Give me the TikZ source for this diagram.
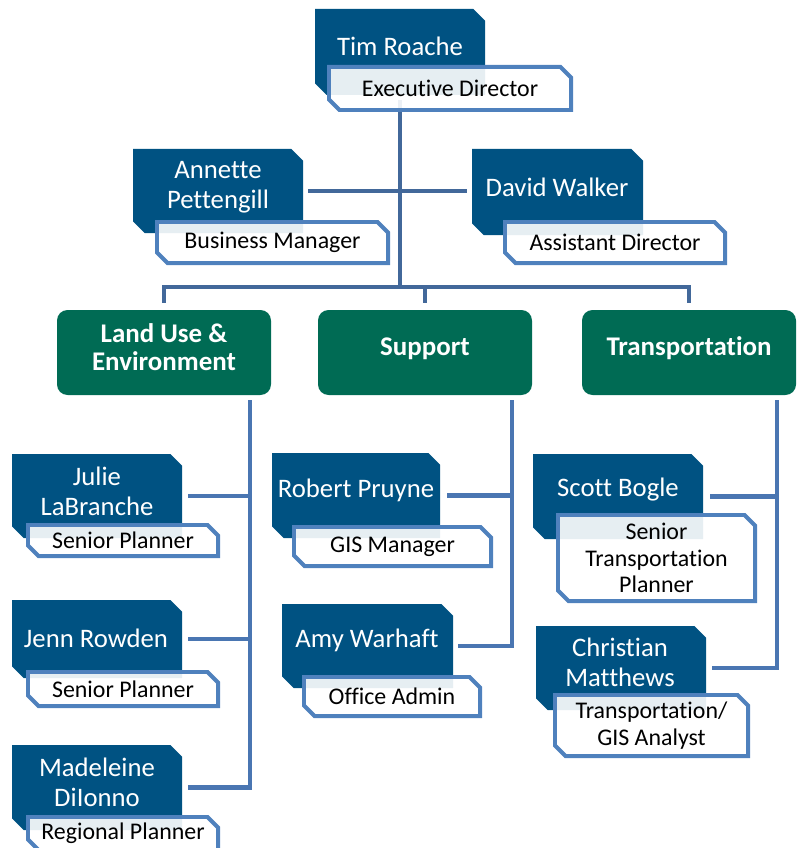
\documentclass[tikz,border=0pt]{standalone}
\usepackage{fontspec}
\setmainfont{Carlito}[Ligatures={NoCommon,NoContextual}]
\usetikzlibrary{backgrounds}
\newlength\px \setlength\px{0.03cm}
\definecolor{staffblue}{RGB}{0,82,130}
\definecolor{roleedge}{RGB}{79,129,189}
\definecolor{linktop}{RGB}{66,104,154}
\definecolor{linklow}{RGB}{74,118,178}
\definecolor{teamgreen}{RGB}{0,107,84}
% chamfered outline of the current node: #1 inset, #2 cut
\newcommand\cutbox[2]{([shift={(#1,-#1)}]path picture bounding box.north west)
  -- ([shift={(-#1-#2,-#1)}]path picture bounding box.north east)
  -- ([shift={(-#1,-#1-#2)}]path picture bounding box.north east)
  -- ([shift={(-#1,#1)}]path picture bounding box.south east)
  -- ([shift={(#1+#2,#1)}]path picture bounding box.south west)
  -- ([shift={(#1,#1+#2)}]path picture bounding box.south west) -- cycle}
\tikzset{
  boxw/.style={minimum width=#1*\px},
  boxh/.style={minimum height=#1*\px},
  person/.style={rectangle, inner sep=0pt,
    path picture={\fill[staffblue] \cutbox{0pt}{10pt};}},
  rolebox/.style={rectangle, inner sep=0pt, align=center,
    font=\fontsize{20.4}{22.6}\selectfont,
    path picture={\draw[roleedge, line width=3.4pt, fill=white, fill opacity=0.9] \cutbox{1.7pt}{9pt};}},
  nametext/.style={text=white, align=center, font=\fontsize{22.8}{25.5}\selectfont},
  team/.style={rectangle, rounded corners=9pt, fill=teamgreen, text=white, align=center,
    font=\bfseries\fontsize{23}{24}\selectfont, minimum width=214*\px, minimum height=85*\px},
  link/.style={draw=linklow, line width=3.6pt},
  linkup/.style={draw=linktop, line width=3.6pt}
}
\begin{document}
\begin{tikzpicture}[x=0.03cm,y=-0.03cm]
  \useasboundingbox (0,0) rectangle (801,848);

  % staff boxes
  \node[person, boxw=170, boxh=86] (tim) at (400,52) {};
  \node[person, boxw=170, boxh=84] (annette) at (218,191) {};
  \node[person, boxw=171, boxh=86] (david) at (557.5,192) {};
  \node[person, boxw=170, boxh=84] (julie) at (97,496) {};
  \node[person, boxw=170, boxh=78] (jenn) at (97,639) {};
  \node[person, boxw=170, boxh=85] (madeleine) at (97,787.5) {};
  \node[person, boxw=168, boxh=85] (robert) at (356,495.5) {};
  \node[person, boxw=171, boxh=84] (amy) at (367.5,646) {};
  \node[person, boxw=170, boxh=85] (scott) at (618,496.5) {};
  \node[person, boxw=170, boxh=84] (christian) at (621,668) {};

  % job titles
  \node[rolebox, boxw=246, boxh=47] (tim-r) at (450,88.5) {Executive Director};
  \node[rolebox, boxw=235, boxh=45] (annette-r) at (272.5,242.5) {Business Manager};
  \node[rolebox, boxw=224, boxh=45] (david-r) at (615,242.5) {Assistant Director};
  \node[rolebox, boxw=194, boxh=35] (julie-r) at (123,540.5) {Senior Planner};
  \node[rolebox, boxw=194, boxh=38] (jenn-r) at (123,689) {Senior Planner};
  \node[rolebox, boxw=194, boxh=37] (madeleine-r) at (123,833.5) {Regional Planner};
  \node[rolebox, boxw=201, boxh=43] (robert-r) at (392.5,546.5) {GIS Manager};
  \node[rolebox, boxw=180, boxh=43] (amy-r) at (392,696.5) {Office Admin};
  \node[rolebox, boxw=201, boxh=90] (scott-r) at (656.5,558) {Senior\\Transportation\\Planner};
  \node[rolebox, boxw=197, boxh=65] (christian-r) at (651.5,725.5) {Transportation/\\GIS Analyst};

  % names
  \node[nametext] (tim-n) at (400,46) {Tim Roache};
  \node[nametext] (annette-n) at (218,187) {Annette\\Pettengill};
  \node[nametext] (david-n) at (557,187) {David Walker};
  \node[nametext] (julie-n) at (97,491) {Julie\\LaBranche};
  \node[nametext] (jenn-n) at (96,638) {Jenn Rowden};
  \node[nametext] (madeleine-n) at (97,782) {Madeleine\\DiIonno};
  \node[nametext] (robert-n) at (356,490) {Robert Pruyne};
  \node[nametext] (amy-n) at (367,640) {Amy Warhaft};
  \node[nametext] (scott-n) at (618,490) {Scott Bogle};
  \node[nametext] (christian-n) at (620,662) {Christian\\Matthews};

  % teams
  \node[team] (land) at (164,352.5) {Land Use \&\\Environment\rule[-9pt]{0pt}{0pt}};
  \node[team] (support) at (425,352.5) {Support\rule[-10pt]{0pt}{0pt}};
  \node[team] (transp) at (689,352.5) {Transportation\rule[-11pt]{0pt}{0pt}};

  \coordinate (trunk) at (400,100);
  \coordinate (bus) at (400,287);
  \coordinate (lu-spine) at (250,400);
  \coordinate (su-spine) at (512,400);
  \coordinate (tr-spine) at (777,400);

  \begin{scope}[on background layer]
    \draw[linkup] (trunk) -- (bus);
    \draw[linkup, shorten <=5*\px, shorten >=5*\px] (annette.east) -- (annette.east -| david.west);
    \draw[linkup] ([yshift=7*\px]land.north) |- (transp.north |- bus) -- ([yshift=7*\px]transp.north);
    \draw[linkup] (support.north |- bus) -- ([yshift=7*\px]support.north);

    \draw[link, shorten >=6*\px] (lu-spine) |- (madeleine.east);
    \draw[link, shorten >=6*\px] (lu-spine |- julie.east) -- (julie.east);
    \draw[link, shorten >=6*\px] (lu-spine |- jenn.east) -- (jenn.east);

    \draw[link, shorten >=5*\px] (su-spine) |- (amy.east);
    \draw[link, shorten >=7*\px] (su-spine |- robert.east) -- (robert.east);

    \draw[link, shorten >=6*\px] (tr-spine) |- (christian.east);
    \draw[link, shorten >=7*\px] (tr-spine |- scott.east) -- (scott.east);
  \end{scope}
\end{tikzpicture}
\end{document}
